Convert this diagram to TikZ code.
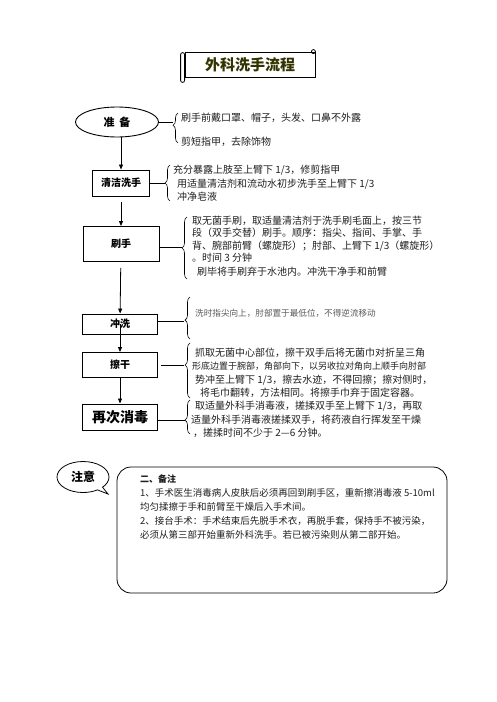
\documentclass[tikz,border=0pt]{standalone}
\usepackage{fontspec}
\setmainfont{Noto Sans CJK SC}
\usetikzlibrary{shapes.geometric,shapes.callouts,decorations.pathreplacing,arrows.meta}

\definecolor{titlecol}{RGB}{51,51,0}
\definecolor{txtcol}{RGB}{30,30,30}

\tikzset{
  stepbox/.style={draw, line width=0.9pt, minimum width=75pt, minimum height=25pt, inner sep=0pt, font=\bfseries\fontsize{10}{12}\selectfont},
  arr/.style={-{Triangle[length=5pt,width=4pt]}, line width=0.8pt},
  lnk/.style={line width=0.8pt},
  brc/.style={decorate, decoration={brace, amplitude=5pt, aspect=#1}, line width=0.6pt},
  brc/.default=0.5,
  txt/.style={anchor=north west, align=left, inner sep=0pt, text=txtcol, font=\fontsize{10}{13.5}\selectfont}
}

\begin{document}
\begin{tikzpicture}[x=1pt, y=-1pt]

  \useasboundingbox (0,0) rectangle (496,702);

  % title
  \node [draw, line width=0.8pt, minimum width=130pt, minimum height=25pt, text=titlecol, font=\bfseries\fontsize{15}{17}\selectfont] (title) at (250,64.5) {外科洗手流程};
  \draw [line width=0.8pt, rounded corners=2pt] ([xshift=-4pt, yshift=-1pt]title.north west) rectangle ([yshift=-5pt]title.south west);
  \draw [line width=0.8pt] ([xshift=-2pt]title.north east) circle [radius=2pt];

  % steps
  \node [ellipse, draw, line width=0.9pt, minimum width=83pt, minimum height=30pt, font=\bfseries\fontsize{11}{13}\selectfont] (prep) at (117,122) {准\hspace{5pt}备};
  \node [stepbox, minimum width=57pt, minimum height=26pt] (clean) at (121,183) {清洁洗手};
  \node [stepbox, minimum width=76pt, minimum height=35pt] (brush) at (121,244) {刷手};
  \node [stepbox, minimum height=20pt] (rinse) at (120,324) {冲洗};
  \node [stepbox] (dry) at (120,365) {擦干};
  \node [stepbox, minimum height=26pt, font=\bfseries\fontsize{14}{16}\selectfont] (redo) at (120,417) {再次消毒};

  \draw [arr] (clean |- prep.south) -- (clean);
  \draw [arr, shorten <=6pt] (clean) -- (brush);
  \draw [arr, shorten <=6pt] (brush) -- (rinse);
  \draw [arr] (rinse.center) -- (dry);
  \draw [arr] (dry) -- (redo);

  % braces
  \draw [brc=0.59] (178,143) -- (178,113);
  \draw [brc] (170,201) -- (170,165);
  \draw [brc] (187,279) -- (187,217);
  \draw [brc=0.45] (190,339) -- (190,297);
  \draw [brc=0.6] (190,398) -- (190,343);
  \draw [brc=0.41] (190,434) -- (190,400);

  \coordinate (prepb) at (173,122);
  \coordinate (cleanb) at (165,183);
  \coordinate (brushb) at (182,247);
  \coordinate (rinseb) at (184,321);
  \coordinate (dryb) at (184,365);
  \coordinate (redob) at (185,420);

  \draw [lnk] (prep.east) -- (prepb);
  \draw [lnk] (clean.east) -- (cleanb);
  \draw [lnk] (brush.east |- brushb) -- (brushb);
  \draw [lnk] (rinse.east |- rinseb) -- (rinseb);
  \draw [lnk] ([xshift=3pt]dry.east) -- (dryb);
  \draw [lnk] (redo.east |- redob) -- (redob);

  % comments
  \node [txt, font=\fontsize{10}{24}\selectfont] (preptxt) at (181,113) {刷手前戴口罩、帽子，头发、口鼻不外露\\剪短指甲，去除饰物};
  \node [txt] (cleantxt) at (173,165) {充分暴露上肢至上臂下 1/3，修剪指甲\\\hspace*{4pt}用适量清洁剂和流动水初步洗手至上臂下 1/3\\\hspace*{4pt}冲净皂液};
  \node [txt, font=\fontsize{10}{12.3}\selectfont] (brushtxt) at (192,216) {取无菌手刷，取适量清洁剂于洗手刷毛面上，按三节\\段（双手交替）刷手。顺序：指尖、指间、手掌、手\\背、腕部前臂（螺旋形）；肘部、上臂下 1/3（螺旋形）\\。时间 3 分钟\\[1.5pt]\hspace*{5pt}刷毕将手刷弃于水池内。冲洗干净手和前臂};
  \node [txt, text=black!65, font=\fontsize{8.6}{10}\selectfont] (rinsetxt) at (195,309) {洗时指尖向上，肘部置于最低位，不得逆流移动};
  \node [txt, font=\fontsize{10}{13.3}\selectfont] (drytxt) at (195,348) {抓取无菌中心部位，擦干双手后将无菌巾对折呈三角\\\hspace*{-3pt}{\fontsize{9}{13.3}\selectfont 形底边置于腕部，角部向下，以另收拉对角向上顺手向肘部}\\势冲至上臂下 1/3，擦去水迹，不得回擦；擦对侧时，\\\hspace*{5pt}将毛巾翻转，方法相同。将擦手巾弃于固定容器。};
  \node [txt, font=\fontsize{10}{13.5}\selectfont] (redotxt) at (195,401) {取适量外科手消毒液，搓揉双手至上臂下 1/3，再取\\\hspace*{-4pt}适量外科手消毒液搓揉双手，将药液自行挥发至干燥\\\hspace*{-2pt}，搓揉时间不少于 2—6 分钟。};

  % remarks
  \node [ellipse callout, draw, line width=0.8pt, minimum width=52pt, minimum height=31pt, callout absolute pointer={(108,494)}, font=\bfseries\fontsize{12}{14}\selectfont] (notice) at (83,477) {注意};
  \node [draw, line width=0.8pt, rounded corners=14pt, minimum width=330pt, minimum height=126pt] (notebox) at (282,530) {};
  \node [txt, font=\fontsize{9.5}{13.8}\selectfont] (notetxt) at (140,475) {{\bfseries\fontsize{9}{13.8}\selectfont 二、备注}\\1、手术医生消毒病人皮肤后必须再回到刷手区，重新擦消毒液 5-10ml\\均匀揉擦于手和前臂至干燥后入手术间。\\2、接台手术：手术结束后先脱手术衣，再脱手套，保持手不被污染，\\必须从第三部开始重新外科洗手。若已被污染则从第二部开始。};

\end{tikzpicture}
\end{document}
